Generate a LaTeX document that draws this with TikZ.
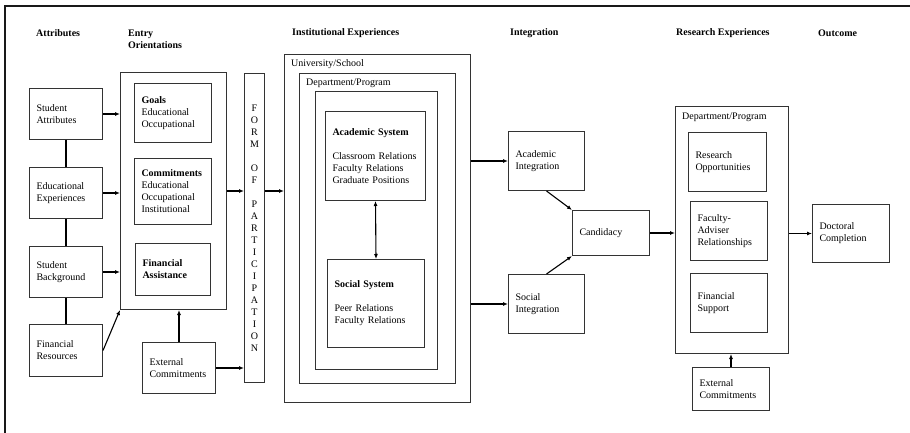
\documentclass[tikz,border=0pt]{standalone}
\usepackage{fontspec}
\setmainfont{Liberation Serif}
\usetikzlibrary{arrows.meta,positioning}

\begin{document}
\begin{tikzpicture}[x=1pt,y=-1pt,>={Latex[length=5pt,width=4pt]},
  frm/.style={draw=black!80,line width=1pt,inner sep=0pt,anchor=north west},
  bx/.style={frm,align=left,inner xsep=7pt},
  hd/.style={anchor=west,inner sep=0pt,font=\bfseries,align=left},
  lbl/.style={anchor=west,inner sep=0pt},
  arr/.style={->,line width=1.1pt}]
\useasboundingbox (0,0) rectangle (910,433);
\draw[line width=2pt,black!90] (910,6) -- (5,6) -- (5,433);
\node[hd] (hattr) at (36,33) {Attributes};
\node[hd] (hentry) at (128,39) {Entry\\Orientations};
\node[hd] (hinst) at (292,33) {Institutional Experiences};
\node[hd] (hint) at (510,33) {Integration};
\node[hd] (hres) at (676,33) {Research Experiences};
\node[hd] (hout) at (818,33) {Outcome};
\node[bx,text width=59pt,minimum height=51pt] (sa) at (29,88) {Student\\Attributes};
\node[bx,text width=59pt,minimum height=51pt] (ee) at (29,167) {Educational\\Experiences};
\node[bx,text width=59pt,minimum height=51pt] (sb) at (29,246) {Student\\Background};
\node[bx,text width=59pt,minimum height=52pt] (fr) at (29,324) {Financial\\Resources};
\node[frm,minimum width=106pt,minimum height=237pt] (entry) at (120,72) {};
\node[bx,text width=63pt,minimum height=59pt] (goals) at (134,83) {\textbf{Goals}\\Educational\\Occupational};
\node[bx,text width=63pt,minimum height=66pt] (commit) at (134,158) {\textbf{Commitments}\\Educational\\Occupational\\Institutional};
\node[bx,text width=61pt,minimum height=52pt] (finass) at (135,243) {\textbf{Financial}\\\textbf{Assistance}};
\node[bx,text width=59pt,minimum height=51pt] (ecl) at (142,342) {External\\Commitments};
\node[frm,align=center,minimum width=20pt,minimum height=309pt] (form) at (244,73)
  {F\\O\\R\\M\\[12pt]O\\F\\[12pt]P\\A\\R\\T\\I\\C\\I\\P\\A\\T\\I\\O\\N};
\node[frm,minimum width=186pt,minimum height=348pt] (univ) at (284,54) {};
\node[lbl] (univlbl) at (291,64) {University/School};
\node[frm,minimum width=156pt,minimum height=310pt] (dept) at (299,73) {};
\node[lbl] (deptlbl) at (306,83) {Department/Program};
\node[frm,minimum width=122pt,minimum height=278pt] (inner) at (315,91) {};
\node[bx,text width=86pt,minimum height=89pt] (acs) at (325,111)
  {\textbf{Academic System}\\[12pt]Classroom Relations\\Faculty Relations\\Graduate Positions};
\node[bx,text width=83pt,minimum height=88pt] (socs) at (327,259)
  {\textbf{Social System}\\[12pt]Peer Relations\\Faculty Relations};
\node[bx,text width=62pt,minimum height=59pt] (ai) at (508,131) {Academic\\Integration};
\node[bx,text width=62pt,minimum height=59pt] (si) at (508,274) {Social\\Integration};
\node[bx,text width=63pt,minimum height=45pt] (cand) at (572,210) {Candidacy};
\node[frm,minimum width=113pt,minimum height=247pt] (rdept) at (675,106) {};
\node[lbl] (rdeptlbl) at (682,117) {Department/Program};
\node[bx,text width=64pt,minimum height=59pt] (ropp) at (688,132) {Research\\Opportunities};
\node[bx,text width=63pt,minimum height=59pt] (fadv) at (690,201) {Faculty-\\Adviser\\Relationships};
\node[bx,text width=63pt,minimum height=59pt] (fsup) at (690,273) {Financial\\Support};
\node[bx,text width=63pt,minimum height=43pt] (ecr) at (692,367) {External\\Commitments};
\node[bx,text width=63pt,minimum height=58pt] (doc) at (812,204) {Doctoral\\Completion};
\draw[line width=1.1pt] (sa) -- (ee) (ee) -- (sb) (sb) -- (fr);
\draw[arr] (sa.east) -- (sa.east -| entry.west);
\draw[arr] (ee.east) -- (ee.east -| entry.west);
\draw[arr] (sb.east) -- (sb.east -| entry.west);
\draw[arr] (fr.east) -- (entry.south west);
\draw[arr] (ecl.north) -- (ecl.north |- entry.south);
\draw[arr] (ecl.east) -- (ecl.east -| form.west);
\draw[arr] (entry.east) -- (entry.east -| form.west);
\draw[arr] (form.east |- entry.east) -- (univ.west |- entry.east);
\draw[<->,line width=1.1pt] (acs.south) -- (socs.north);
\draw[arr] (ai.west -| univ.east) -- (ai.west);
\draw[arr] (si.west -| univ.east) -- (si.west);
\draw[arr] (ai.south) -- (cand.north west);
\draw[arr] (si.north) -- (cand.south west);
\draw[arr] (cand.east) -- (cand.east -| rdept.west);
\draw[arr] (ecr.north) -- (ecr.north |- rdept.south);
\draw[arr] (doc.west -| rdept.east) -- (doc.west);
\end{tikzpicture}
\end{document}
